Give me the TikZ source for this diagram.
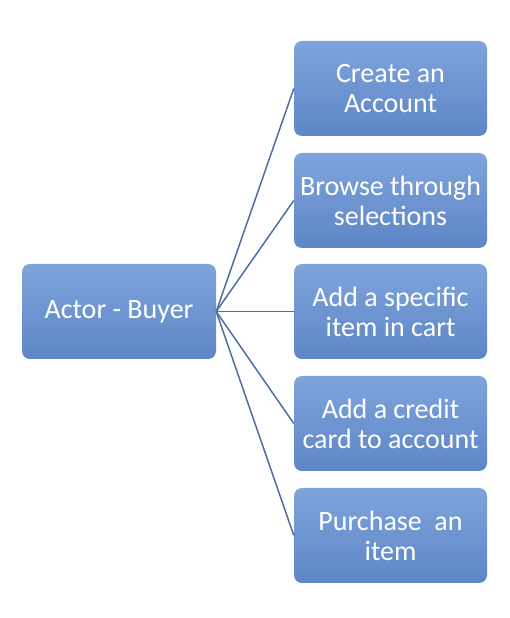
\documentclass[tikz,border=0pt]{standalone}
\usepackage{fontspec}
\setmainfont{Carlito}
\definecolor{boxtop}{HTML}{7FA4DC}
\definecolor{boxbottom}{HTML}{5E86C6}
\definecolor{linkline}{HTML}{4D6E9E}
\tikzset{
  usecase/.style={rectangle,rounded corners=8pt,top color=boxtop,bottom color=boxbottom,
    draw=none,text=white,minimum width=193pt,minimum height=95pt,align=center,
    font=\fontsize{28}{30}\selectfont,inner sep=1pt}
}

\begin{document}
\begin{tikzpicture}[x=1pt,y=1pt]
\useasboundingbox (0,0) rectangle (510,618);
\node[usecase,minimum width=194pt] (A) at (119,306.5) {Actor - Buyer};

\foreach \n/\y/\t in {1/529.5/{Create an\\Account},2/417.5/{Browse through\\selections},
  3/306.5/{Add a specific\\item in cart},4/194.5/{Add a credit\\card to account},
  5/82.5/{Purchase\ \ an\\item}} {
  \node[usecase] (U\n) at (390.5,\y) {\t};
}

\foreach \n in {1,...,5} {
  \draw[linkline,line width=1.5pt] (A.east) -- (U\n.west);
}
\end{tikzpicture}
\end{document}
